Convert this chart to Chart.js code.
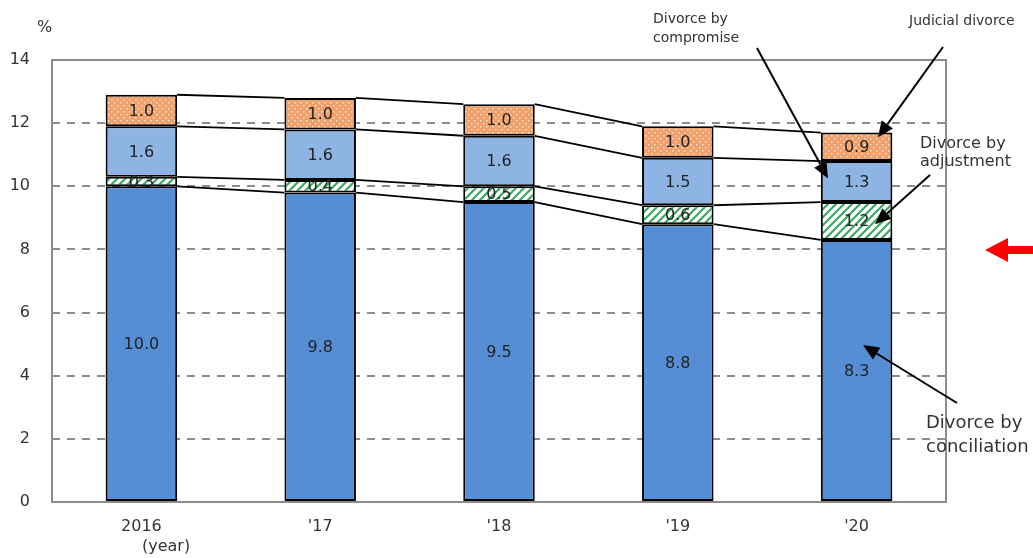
<!DOCTYPE html>
<html><head><meta charset="utf-8">
<script src="https://cdn.jsdelivr.net/npm/chart.js@4"></script>
<style>html,body{margin:0;padding:0;background:#fff}#wrap{width:1033px;height:558px}</style>
</head><body><div id="wrap"><canvas id="c" width="1033" height="558"></canvas></div>
<script>
const categories = ["2016", "'17", "'18", "'19", "'20"];
const conciliation = [10.0, 9.8, 9.5, 8.8, 8.3];
const adjustment = [0.3, 0.4, 0.5, 0.6, 1.2];
const compromise = [1.6, 1.6, 1.6, 1.5, 1.3];
const judicial = [1.0, 1.0, 1.0, 1.0, 0.9];
const yTicks = [0, 2, 4, 6, 8, 10, 12, 14];

const FF = '"DejaVu Sans", Arial, sans-serif';

function hatch() {
  const c = document.createElement('canvas'); c.width = 8; c.height = 8;
  const g = c.getContext('2d');
  g.fillStyle = '#fff'; g.fillRect(0,0,8,8);
  g.strokeStyle = '#3aa860'; g.lineWidth = 2.2;
  g.beginPath(); g.moveTo(-2,10); g.lineTo(10,-2); g.moveTo(-6,6); g.lineTo(6,-6); g.moveTo(2,14); g.lineTo(14,2); g.stroke();
  return g.createPattern(c, 'repeat');
}
function dots() {
  const c = document.createElement('canvas'); c.width = 6; c.height = 6;
  const g = c.getContext('2d');
  g.fillStyle = '#f0a06a'; g.fillRect(0,0,6,6);
  g.fillStyle = '#fbe2cf';
  g.fillRect(0,0,1.5,1.5); g.fillRect(3,3,1.5,1.5);
  return g.createPattern(c, 'repeat');
}
const ctx0 = document.getElementById('c').getContext('2d');

const overlay = {
  id: 'overlay',
  afterDatasetsDraw(chart) {
    const ctx = chart.ctx;
    const metas = [0,1,2,3].map(i => chart.getDatasetMeta(i));
    ctx.save(); ctx.strokeStyle = '#000'; ctx.lineWidth = 1.8;
    const n = categories.length;
    for (let j = 0; j < n - 1; j++) {
      for (let d = 0; d < 4; d++) {
        const a = metas[d].data[j], b = metas[d].data[j+1];
        ctx.beginPath();
        ctx.moveTo(a.x + a.width/2, a.y);
        ctx.lineTo(b.x - b.width/2, b.y);
        ctx.stroke();
      }
    }
    ctx.fillStyle = '#222'; ctx.font = '16px ' + FF;
    ctx.textAlign = 'center'; ctx.textBaseline = 'middle';
    const ds = chart.data.datasets;
    for (let d = 0; d < 4; d++) {
      metas[d].data.forEach((el, j) => {
        ctx.fillText(ds[d].data[j].toFixed(1), el.x, (el.y + el.base)/2 + 1);
      });
    }
    ctx.restore();
  },
  afterDraw(chart) {
    const ctx = chart.ctx, y = chart.scales.y, ca = chart.chartArea;
    ctx.save();
    ctx.strokeStyle = '#8c8c8c'; ctx.lineWidth = 2;
    ctx.strokeRect(ca.left, ca.top, ca.right - ca.left, ca.bottom - ca.top);
    ctx.fillStyle = '#333'; ctx.font = '16px ' + FF;
    ctx.textAlign = 'left'; ctx.textBaseline = 'alphabetic';
    ctx.fillText('%', 37, 32);
    ctx.fillText('(year)', 142, 551);
    ctx.font = '14px ' + FF;
    ctx.fillText('Divorce by', 653, 23);
    ctx.fillText('compromise', 653, 42);
    ctx.fillText('Judicial divorce', 909, 25);
    ctx.font = '16px ' + FF;
    ctx.fillText('Divorce by', 920, 148);
    ctx.fillText('adjustment', 920, 166);
    ctx.font = '18px ' + FF;
    ctx.fillText('Divorce by', 926, 428);
    ctx.fillText('conciliation', 926, 452);
    function arrow(x1, y1, x2, y2) {
      ctx.strokeStyle = '#000'; ctx.fillStyle = '#000'; ctx.lineWidth = 2;
      const ang = Math.atan2(y2 - y1, x2 - x1), L = 16, W = 7;
      const bx = x2 - L*Math.cos(ang), by = y2 - L*Math.sin(ang);
      ctx.beginPath(); ctx.moveTo(x1, y1); ctx.lineTo(bx, by); ctx.stroke();
      ctx.beginPath(); ctx.moveTo(x2, y2);
      ctx.lineTo(bx + W*Math.sin(ang), by - W*Math.cos(ang));
      ctx.lineTo(bx - W*Math.sin(ang), by + W*Math.cos(ang));
      ctx.closePath(); ctx.fill();
    }
    arrow(757, 48, 828, y.getPixelForValue(10.25));
    arrow(943, 47, 878, y.getPixelForValue(11.55));
    arrow(930, 175, 875, y.getPixelForValue(8.8));
    arrow(957, 403, 863, y.getPixelForValue(4.97));
    ctx.fillStyle = '#ff0000';
    ctx.beginPath();
    ctx.moveTo(985, 250); ctx.lineTo(1008, 238); ctx.lineTo(1008, 246); ctx.lineTo(1033, 246);
    ctx.lineTo(1033, 254); ctx.lineTo(1008, 254); ctx.lineTo(1008, 262); ctx.closePath(); ctx.fill();
    ctx.restore();
  }
};

const common = { borderColor: '#000', borderWidth: 2, borderSkipped: false, barPercentage: 0.8, categoryPercentage: 0.5 };
new Chart(ctx0, {
  type: 'bar',
  data: {
    labels: categories,
    datasets: [
      Object.assign({ label: 'Divorce by conciliation', data: conciliation, backgroundColor: '#558ed5' }, common),
      Object.assign({ label: 'Divorce by adjustment', data: adjustment, backgroundColor: hatch() }, common),
      Object.assign({ label: 'Divorce by compromise', data: compromise, backgroundColor: '#8eb4e3' }, common),
      Object.assign({ label: 'Judicial divorce', data: judicial, backgroundColor: dots() }, common)
    ]
  },
  options: {
    responsive: false, animation: false,
    layout: { padding: { top: 60, right: 87, left: 0, bottom: 0 } },
    plugins: { legend: { display: false }, tooltip: { enabled: false } },
    scales: {
      x: {
        stacked: true,
        grid: { display: false, drawTicks: false },
        border: { display: false },
        ticks: { color: '#333', font: { size: 16, family: FF }, padding: 15 },
        afterFit(s) { s.height = 56; }
      },
      y: {
        stacked: true, min: 0, max: 14,
        afterBuildTicks(s) { s.ticks = yTicks.map(v => ({ value: v })); },
        grid: {
          drawTicks: false, lineWidth: 2,
          color: (c) => (c.tick && (c.tick.value === 0 || c.tick.value === 14)) ? 'rgba(0,0,0,0)' : '#8c8c8c'
        },
        border: { display: false, dash: [8, 7] },
        ticks: { color: '#333', font: { size: 16, family: FF }, padding: 22 },
        afterFit(s) { s.width = 52; }
      }
    }
  },
  plugins: [overlay]
});
</script>
</body></html>
